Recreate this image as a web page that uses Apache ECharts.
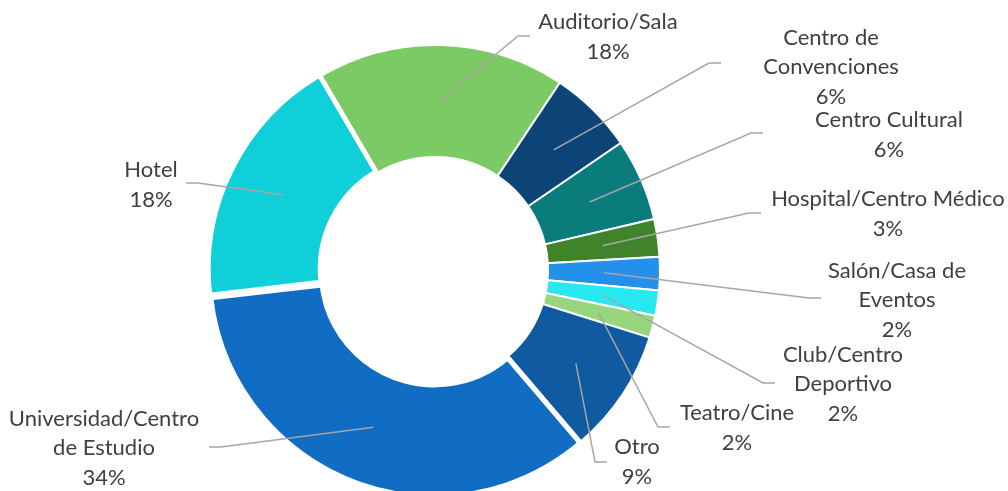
<!DOCTYPE html>
<html>
<head>
<meta charset="utf-8">
<title>Tipo de recinto</title>
<script src="https://cdn.jsdelivr.net/npm/echarts@6/dist/echarts.min.js"></script>
<style>
  html, body { margin: 0; padding: 0; background: #fff; }
  #chart { width: 1008px; height: 491px; }
</style>
</head>
<body>
<div id="chart"></div>
<script>
// categorias en el sentido de las agujas del reloj, empezando por el arco de arriba
const categories = ['Auditorio/Sala', 'Centro de Convenciones', 'Centro Cultural', 'Hospital/Centro Médico', 'Salón/Casa de Eventos', 'Club/Centro Deportivo', 'Teatro/Cine', 'Otro', 'Universidad/Centro de Estudio', 'Hotel']
// como se cortan los nombres en las etiquetas
const labelNames = ['Auditorio/Sala', 'Centro de\nConvenciones', 'Centro Cultural', 'Hospital/Centro Médico', 'Salón/Casa de\nEventos', 'Club/Centro\nDeportivo', 'Teatro/Cine', 'Otro', 'Universidad/Centro\nde Estudio', 'Hotel']
const shares = [17.8, 6.1, 5.9, 2.7, 2.4, 1.8, 1.6, 8.9, 34.4, 18.4]
const exploded = ['Universidad/Centro de Estudio', 'Hotel']

const colors = ['#7cca64', '#0d4477', '#0a7c7c', '#3f832a', '#2391ec', '#27e8f0', '#97d67f', '#0f5aa0', '#116dc4', '#0fcfd9']

// where each label sits (block centre) and where its leader line stops
const labelPos = [
  { x: 608, y: 37, endX: 530, endY: 36 },
  { x: 831, y: 67, endX: 721, endY: 63 },
  { x: 889, y: 135, endX: 763, endY: 133 },
  { x: 888, y: 214, endX: 761, endY: 213 },
  { x: 897, y: 300, endX: 821, endY: 298 },
  { x: 843, y: 384, endX: 775, endY: 383 },
  { x: 737, y: 428, endX: 670, endY: 427 },
  { x: 637, y: 462, endX: 607, endY: 462 },
  { x: 104, y: 448, endX: 209, endY: 447 },
  { x: 151, y: 185, endX: 186, endY: 183 }
]

const center = [435, 270]

const chart = echarts.init(document.getElementById('chart'), null, { renderer: 'canvas' })

chart.setOption({
  animation: false,
  color: colors,
  series: [
    {
      // the donut itself
      type: 'pie',
      z: 2,
      center: center,
      radius: [113, 225],
      startAngle: 120.4,
      clockwise: true,
      selectedMode: 'multiple',
      selectedOffset: 2,
      silent: true,
      itemStyle: { borderColor: '#fff', borderWidth: 2 },
      label: { show: false },
      labelLine: { show: false },
      data: categories.map((name, i) => {
        const out = exploded.includes(name)
        return {
          name: name,
          value: shares[i],
          selected: out,
          // the pulled-out slices have a wider white gap round them
          itemStyle: out ? { borderWidth: 5 } : undefined,
          select: out ? { itemStyle: { borderColor: '#fff', borderWidth: 5 } } : undefined
        }
      })
    },
    {
      // invisible pie whose rim runs through the middle of the ring,
      // so the leader lines start inside the slices
      type: 'pie',
      z: 5,
      center: center,
      radius: [0, 169],
      startAngle: 120.4,
      clockwise: true,
      silent: true,
      emphasis: { disabled: true },
      avoidLabelOverlap: false,
      itemStyle: { color: 'rgba(0,0,0,0)', borderWidth: 0 },
      label: {
        show: true,
        position: 'outside',
        color: '#404040',
        fontFamily: 'Lato',
        fontSize: 22,
        lineHeight: 29.5,
        align: 'center',
        formatter: (p) => labelNames[p.dataIndex] + '\n' + Math.round(p.percent) + '%'
      },
      labelLine: {
        show: true,
        length: 10,
        length2: 10,
        lineStyle: { color: '#a6a6a6', width: 1.5 }
      },
      labelLayout: (p) => {
        const pos = labelPos[p.dataIndex]
        const start = p.labelLinePoints ? p.labelLinePoints[0] : [pos.endX, pos.endY]
        const elbowX = pos.endX + (pos.endX < pos.x ? -12 : 12)
        return {
          x: pos.x,
          y: pos.y,
          align: 'center',
          verticalAlign: 'middle',
          labelLinePoints: [start, [elbowX, pos.endY], [pos.endX, pos.endY]]
        }
      },
      data: categories.map((name, i) => ({ name: name, value: shares[i] }))
    }
  ]
})

window.addEventListener('resize', () => chart.resize())
</script>
</body>
</html>
